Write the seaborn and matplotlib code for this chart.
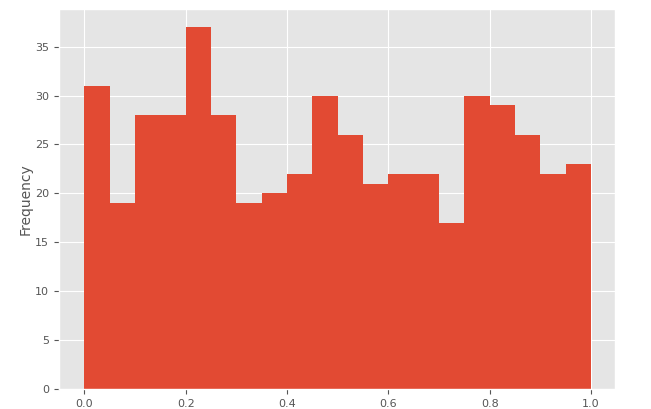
import matplotlib
matplotlib.use("Agg")
import matplotlib.pyplot as plt
import seaborn as sns
import numpy as np

bin_edges = [0.0, 0.05, 0.1, 0.15, 0.2, 0.25, 0.3, 0.35, 0.4, 0.45, 0.5,
             0.55, 0.6, 0.65, 0.7, 0.75, 0.8, 0.85, 0.9, 0.95, 1.0]
counts = [31, 19, 28, 28, 37, 28, 19, 20, 22, 30, 26, 21, 22, 22, 17, 30, 29, 26, 22, 23]

plt.style.use('ggplot')
fig = plt.figure(figsize=(6.51, 4.09), dpi=100)
ax = fig.add_axes([0.0906, 0.049, 0.854, 0.929])

centers = [(bin_edges[i] + bin_edges[i + 1]) / 2 for i in range(len(counts))]
sns.histplot(x=centers, weights=counts, bins=bin_edges, ax=ax,
             color='#E24A33', alpha=1, linewidth=0, stat='count')
ax.set_ylabel('Frequency', color='#555555', fontsize=10, labelpad=2)
ax.set_xlabel('')
ax.set_xticks([0.0, 0.2, 0.4, 0.6, 0.8, 1.0])
ax.set_ylim(0, 38.85)
ax.set_xlim(-0.05, 1.047)
ax.tick_params(labelsize=8)

fig.savefig('out.png', dpi=100)
